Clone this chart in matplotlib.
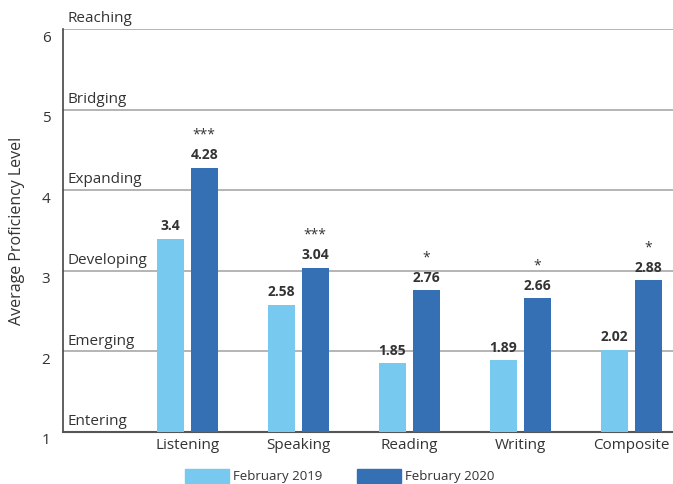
import numpy as np
import matplotlib
matplotlib.use("Agg")
import matplotlib.pyplot as plt
import matplotlib.transforms as mtransforms
from matplotlib.patches import Patch

categories = ["Listening", "Speaking", "Reading", "Writing", "Composite"]
feb2019 = [3.4, 2.58, 1.85, 1.89, 2.02]
feb2020 = [4.28, 3.04, 2.76, 2.66, 2.88]
significance = ["***", "***", "*", "*", "*"]
series_names = ["February 2019", "February 2020"]
levels = ["Entering", "Emerging", "Developing", "Expanding", "Bridging", "Reaching"]
yticks = [1, 2, 3, 4, 5, 6]

c2019 = "#78C9EF"
c2020 = "#3570B5"
txt = "#333333"

plt.rcParams["font.family"] = ["Open Sans", "DejaVu Sans"]

fig = plt.figure(figsize=(6.73, 4.84), dpi=100)
ax = fig.add_axes([63/673, 1-432/484, 610/673, (432-29)/484])

x = np.arange(len(categories))
w = 0.243
off = 0.153
ax.bar(x - off, np.array(feb2019) - 1, w, bottom=1, color=c2019, zorder=3)
ax.bar(x + off, np.array(feb2020) - 1, w, bottom=1, color=c2020, zorder=3)

ax.set_xlim(-1.12, 4.375)
ax.set_ylim(1, 6)
ax.set_yticks(yticks)
ax.set_yticklabels([str(t) for t in yticks], fontsize=11, color=txt)
ax.tick_params(axis="y", length=0, pad=9)
ax.tick_params(axis="x", length=0, pad=4, labelsize=11, labelcolor=txt)
ax.set_xticks(x)
ax.set_xticklabels(categories)
shift = mtransforms.ScaledTranslation(0, -7/100, fig.dpi_scale_trans)
for lab in ax.get_yticklabels():
    lab.set_transform(lab.get_transform() + shift)

for t in yticks[1:]:
    ax.axhline(t, color="#A8A8A8", lw=1.2, zorder=1)

for s in ["top", "right"]:
    ax.spines[s].set_visible(False)
ax.spines["left"].set_color("#444444")
ax.spines["bottom"].set_color("#555555")
ax.spines["left"].set_linewidth(1.2)
ax.spines["bottom"].set_linewidth(1.5)

for i, lv in enumerate(levels):
    ax.annotate(lv, xy=(0.008, yticks[i]), xycoords=("axes fraction", "data"),
                xytext=(0, 2), textcoords="offset points", ha="left", va="bottom",
                fontsize=11, color=txt)

for i in range(len(categories)):
    ax.annotate(f"{feb2019[i]:g}", xy=(x[i] - off, feb2019[i]), xytext=(0, 4),
                textcoords="offset points", ha="center", va="bottom",
                fontsize=10, fontweight="bold", color=txt)
    ax.annotate(f"{feb2020[i]:g}", xy=(x[i] + off, feb2020[i]), xytext=(0, 4),
                textcoords="offset points", ha="center", va="bottom",
                fontsize=10, fontweight="bold", color=txt)
    ax.annotate(significance[i], xy=(x[i] + off, feb2020[i]), xytext=(0, 18),
                textcoords="offset points", ha="center", va="bottom",
                fontsize=10, color=txt)

ax.set_ylabel("Average Proficiency Level", fontsize=11.5, color=txt)
ax.yaxis.set_label_coords(-38/610, 0.5)

handles = [Patch(color=c2019), Patch(color=c2020)]
fig.legend(handles, series_names, loc="center", bbox_to_anchor=(0.505, 1-476/484),
           ncol=2, frameon=False, fontsize=9.5, handlelength=3.3, handleheight=1.3,
           handletextpad=0.35, columnspacing=2.6, labelcolor=txt)

fig.savefig("out.png", dpi=100)
